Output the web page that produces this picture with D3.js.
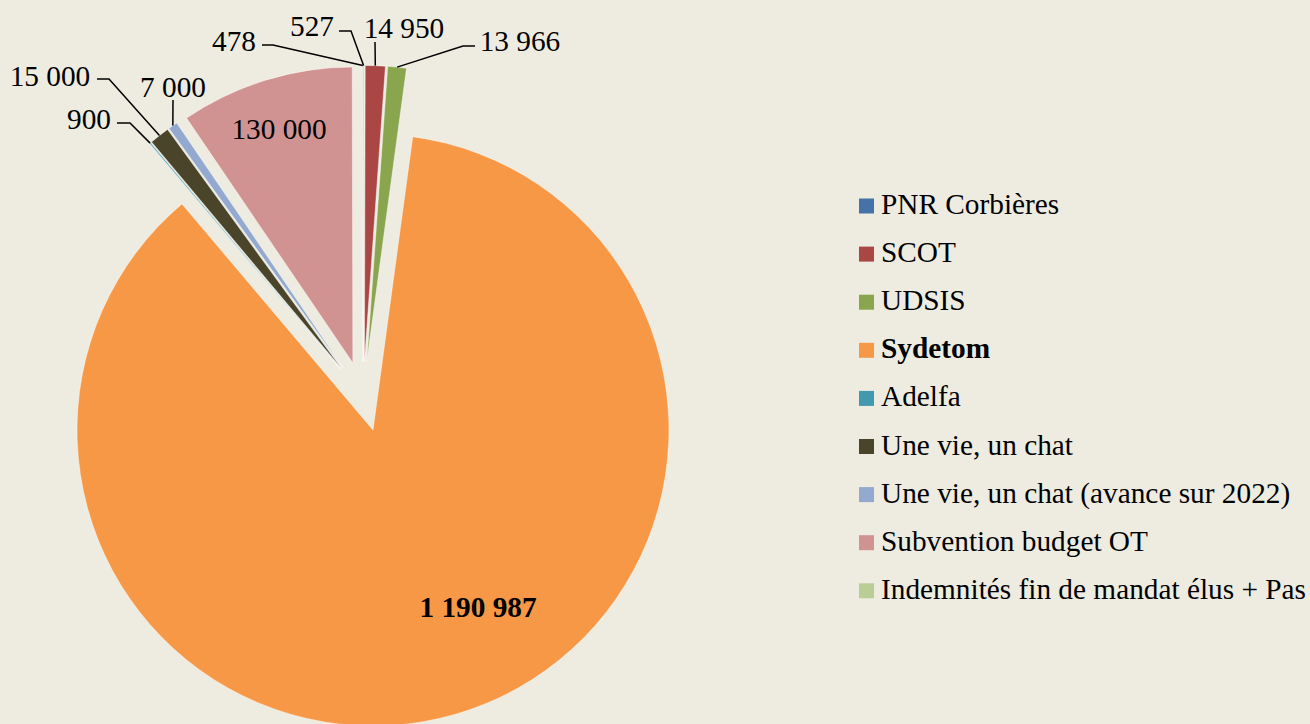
<!DOCTYPE html>
<html>
<head>
<meta charset="utf-8">
<script src="https://cdn.jsdelivr.net/npm/d3@7"></script>
<style>
  html, body { margin: 0; padding: 0; background: #EEECE1; }
  svg { display: block; }
  text { font-family: "Liberation Serif", "Times New Roman", serif; fill: #000; }
</style>
</head>
<body>
<div id="chart-container"></div>
<script>
const width = 1310;
const height = 724;

// data
const categories = ["PNR Corbières", "SCOT", "UDSIS", "Sydetom", "Adelfa",
  "Une vie, un chat", "Une vie, un chat (avance sur 2022)", "Subvention budget OT",
  "Indemnités fin de mandat élus + Pas"];
const values = [527, 14950, 13966, 1190987, 900, 15000, 7000, 130000, 478];
const valueLabels = ["527", "14 950", "13 966", "1 190 987", "900", "15 000", "7 000", "130 000", "478"];
const colors = ["#4572A7", "#AA4643", "#89A54E", "#F79847", "#4198AF", "#4A452A", "#93A9CF", "#D19392", "#B9CD96"];

const center = { x: 363.2, y: 396.4 };
const radius = 296;
const explode = 35;
const fontSize = "29.3px";

// label placement (text position + leader bends), null = inside slice
const labelPos = [
  { x: 312, y: 36, line: [[339, 31], [351, 31]] },
  { x: 404, y: 38, line: [[375, 42]] },
  { x: 520, y: 51, line: [[475, 46], [463, 46]] },
  { x: 478, y: 617, line: null, bold: true },
  { x: 89, y: 129, line: [[117, 123], [130, 123]] },
  { x: 50, y: 86, line: [[97, 79], [109, 79]] },
  { x: 173, y: 97, line: [[173, 100]] },
  { x: 279, y: 139, line: null },
  { x: 234, y: 51, line: [[262, 45], [273, 45]] }
];

const svg = d3.select("#chart-container")
  .append("svg")
    .attr("width", width)
    .attr("height", height);

svg.append("rect")
  .attr("width", width)
  .attr("height", height)
  .attr("fill", "#EEECE1");

const data = categories.map((c, i) => ({ name: c, value: values[i], label: valueLabels[i], color: colors[i] }));

const pie = d3.pie().value(d => d.value).sort(null);
const arcs = pie(data);

const arc = d3.arc().innerRadius(0).outerRadius(radius);

const g = svg.append("g")
  .attr("transform", `translate(${center.x},${center.y})`);

function offset(a) {
  const mid = (a.startAngle + a.endAngle) / 2;
  return [Math.sin(mid) * explode, -Math.cos(mid) * explode];
}

g.selectAll("path.slice")
  .data(arcs)
  .join("path")
    .attr("class", "slice")
    .attr("d", arc)
    .attr("fill", d => d.data.color)
    .attr("stroke", "#ffffff")
    .attr("stroke-opacity", 0.6)
    .attr("stroke-width", 0.75)
    .attr("transform", d => `translate(${offset(d)})`);

// leader lines
const lineGen = d3.line();
arcs.forEach((a, i) => {
  const lp = labelPos[i];
  if (!lp.line) return;
  const mid = (a.startAngle + a.endAngle) / 2;
  const [ox, oy] = offset(a);
  const end = [center.x + ox + Math.sin(mid) * radius, center.y + oy - Math.cos(mid) * radius];
  svg.append("path")
    .attr("d", lineGen(lp.line.concat([end])))
    .attr("fill", "none")
    .attr("stroke", "#000")
    .attr("stroke-width", 1.5);
});

// value labels
svg.selectAll("text.val")
  .data(arcs)
  .join("text")
    .attr("class", "val")
    .attr("x", (d, i) => labelPos[i].x)
    .attr("y", (d, i) => labelPos[i].y)
    .attr("text-anchor", "middle")
    .style("font-size", fontSize)
    .style("font-weight", (d, i) => labelPos[i].bold ? "bold" : "normal")
    .text(d => d.data.label);

// legend
const legend = svg.append("g")
  .attr("transform", "translate(859,206)");

const item = legend.selectAll("g")
  .data(data)
  .join("g")
    .attr("transform", (d, i) => `translate(0,${i * 48.1})`);

item.append("rect")
  .attr("x", 0)
  .attr("y", -7.5)
  .attr("width", 15)
  .attr("height", 15)
  .attr("fill", d => d.color);

item.append("text")
  .attr("x", 22)
  .attr("y", 8)
  .style("font-size", fontSize)
  .style("font-weight", d => d.name === "Sydetom" ? "bold" : "normal")
  .text(d => d.name);
</script>
</body>
</html>
